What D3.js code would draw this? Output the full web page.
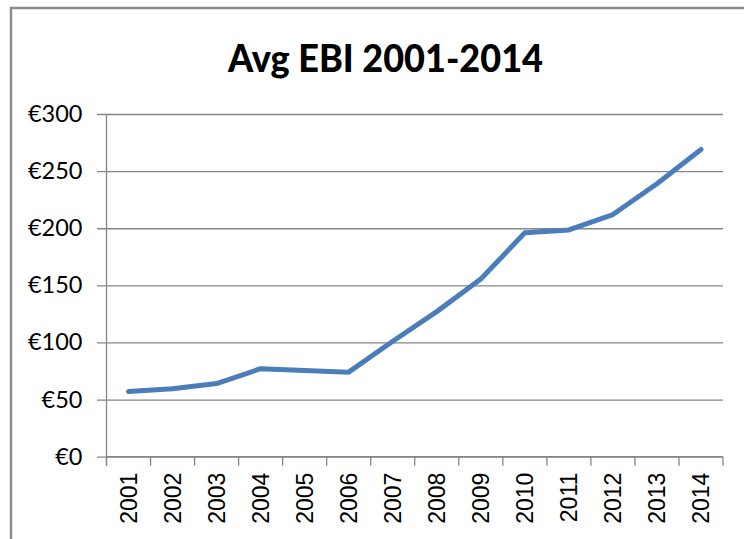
<!DOCTYPE html>
<html>
<head>
<meta charset="utf-8">
<script src="https://cdn.jsdelivr.net/npm/d3@7"></script>
<style>
  body { margin: 0; background: #fff; }
  svg { display: block; }
  .axis path, .axis line { stroke: #868686; }
</style>
</head>
<body>
<svg id="chart"></svg>
<script>
// data
const years = ['2001', '2002', '2003', '2004', '2005', '2006', '2007',
  '2008', '2009', '2010', '2011', '2012', '2013', '2014']
const avgEbi = [57, 59.5, 64, 77, 75.5, 74, 101, 127, 155.5, 196, 198.5, 212, 239, 269]
const yTicks = [0, 50, 100, 150, 200, 250, 300]
const title = 'Avg EBI 2001-2014'

const width = 744
const height = 539
const margin = { top: 114, right: 21, bottom: 82.3, left: 106.5 }
const innerW = width - margin.left - margin.right
const innerH = height - margin.top - margin.bottom

const svg = d3.select('#chart')
  .attr('width', width)
  .attr('height', height)

// outer chart border (only top and left visible in the crop)
svg.append('path')
  .attr('d', 'M11,' + height + 'V8H' + width)
  .attr('fill', 'none')
  .attr('stroke', '#8c8c8c')
  .attr('stroke-width', 2.5)

svg.append('text')
  .text(title)
  .attr('x', 385.5)
  .attr('y', 72)
  .attr('text-anchor', 'middle')
  .attr('font-family', 'Lato, "Open Sans", sans-serif')
  .attr('font-weight', 900)
  .attr('font-size', 37)
  .attr('textLength', 315)
  .attr('lengthAdjust', 'spacingAndGlyphs')
  .attr('fill', '#000')

const g = svg.append('g')
  .attr('transform', 'translate(' + margin.left + ',' + margin.top + ')')

const x = d3.scaleBand().domain(years).range([0, innerW])
const y = d3.scaleLinear().domain([0, 300]).range([innerH, 0])

// horizontal gridlines + y labels
const yAxis = g.append('g')
  .attr('class', 'axis y')
  .call(d3.axisLeft(y)
    .tickValues(yTicks)
    .tickSize(-innerW)
    .tickPadding(24)
    .tickFormat(d => '€' + d))
yAxis.select('.domain').remove()
yAxis.selectAll('.tick line')
  .attr('x1', -9.5)
  .attr('stroke-width', 1.3)
yAxis.selectAll('.tick text')
  .attr('font-family', 'Lato, "Open Sans", sans-serif')
  .attr('font-size', 23.5)
  .attr('fill', '#000')

// vertical axis line
g.append('line')
  .attr('x1', 0).attr('x2', 0)
  .attr('y1', 0).attr('y2', innerH + 9)
  .attr('stroke', '#868686')
  .attr('stroke-width', 1.3)

// x axis: ticks on band edges, labels rotated
const xAxis = g.append('g')
  .attr('class', 'axis x')
  .attr('transform', 'translate(0,' + innerH + ')')
xAxis.append('line')
  .attr('x1', 0).attr('x2', innerW)
  .attr('stroke', '#868686')
  .attr('stroke-width', 1.3)
xAxis.selectAll('.edge')
  .data(years.concat(['end']))
  .enter()
  .append('line')
  .attr('class', 'edge')
  .attr('x1', (d, i) => i < years.length ? x(d) : innerW)
  .attr('x2', (d, i) => i < years.length ? x(d) : innerW)
  .attr('y1', 0)
  .attr('y2', 9)
  .attr('stroke', '#868686')
  .attr('stroke-width', 1.3)
xAxis.selectAll('.lbl')
  .data(years)
  .enter()
  .append('text')
  .attr('class', 'lbl')
  .text(d => d)
  .attr('transform', d => 'translate(' + (x(d) + x.bandwidth() / 2 + 8) + ',16) rotate(-90)')
  .attr('text-anchor', 'end')
  .attr('font-family', '"Liberation Sans", Arial, sans-serif')
  .attr('font-size', 23)
  .attr('fill', '#000')

// the series
const line = d3.line()
  .x((d, i) => x(years[i]) + x.bandwidth() / 2)
  .y(d => y(d))

g.append('path')
  .datum(avgEbi)
  .attr('d', line)
  .attr('fill', 'none')
  .attr('stroke', '#4a7ebb')
  .attr('stroke-width', 5)
  .attr('stroke-linejoin', 'round')
  .attr('stroke-linecap', 'round')
</script>
</body>
</html>
